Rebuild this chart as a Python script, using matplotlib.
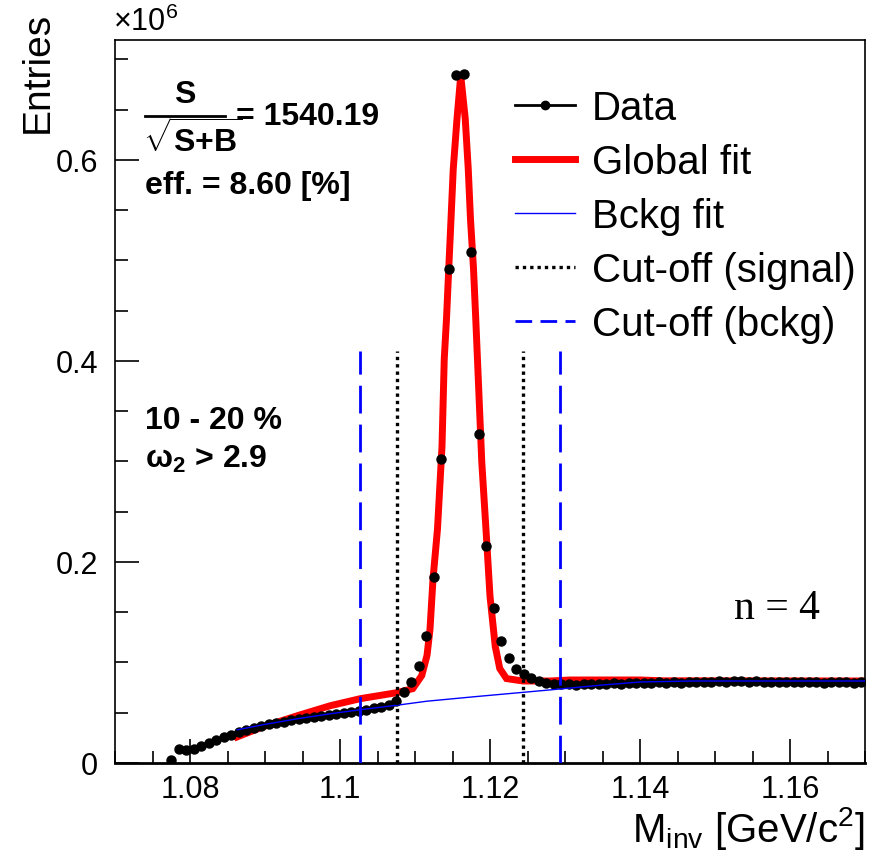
import numpy as np
import matplotlib
matplotlib.use("Agg")
import matplotlib.pyplot as plt
from matplotlib.lines import Line2D
from matplotlib.ticker import MultipleLocator, FuncFormatter

plt.rcParams['font.family'] = ['Liberation Sans', 'DejaVu Sans']
plt.rcParams['mathtext.fontset'] = 'custom'
plt.rcParams['mathtext.rm'] = 'Liberation Sans'
plt.rcParams['mathtext.it'] = 'Liberation Sans:italic'
plt.rcParams['mathtext.bf'] = 'Liberation Sans:bold'

# invariant mass histogram, entries in units of 10^6, 1 MeV bins
first_bin = 1.0775
bin_width = 0.001
entries = [
    0.003, 0.014, 0.013, 0.014, 0.017, 0.020, 0.023, 0.026, 0.028, 0.031,
    0.033, 0.035, 0.037, 0.039, 0.040, 0.041, 0.043, 0.044, 0.045, 0.046,
    0.047, 0.048, 0.049, 0.050, 0.051, 0.052, 0.053, 0.055, 0.056, 0.058,
    0.062, 0.071, 0.081, 0.097, 0.126, 0.185, 0.302, 0.492, 0.685, 0.686,
    0.508, 0.327, 0.216, 0.154, 0.121, 0.104, 0.094, 0.089, 0.085, 0.082,
    0.080, 0.079, 0.0785, 0.0785, 0.078, 0.0785, 0.079, 0.0785, 0.079, 0.0795,
    0.079, 0.0795, 0.080, 0.0795, 0.080, 0.0805, 0.080, 0.0805, 0.080, 0.0805,
    0.081, 0.0805, 0.081, 0.0815, 0.081, 0.082, 0.0815, 0.081, 0.0815, 0.081,
    0.0805, 0.081, 0.0805, 0.081, 0.0805, 0.081, 0.0805, 0.080, 0.0805, 0.081,
    0.0805, 0.080, 0.0805,
]

# global fit (signal + background)
fit_x = [1.0863, 1.0897, 1.0943, 1.0987, 1.1027, 1.1076, 1.1097, 1.1109,
         1.1116, 1.1120, 1.1124, 1.1130, 1.1136, 1.1139, 1.1142, 1.1145,
         1.1148, 1.1151, 1.1156, 1.1161, 1.1167, 1.1171, 1.1174, 1.1178,
         1.1181, 1.1184, 1.1189, 1.1196, 1.1200, 1.1207, 1.1213, 1.1222,
         1.1244, 1.1280, 1.1307, 1.1400, 1.1430, 1.1700]
fit_y = [0.026, 0.036, 0.047, 0.057, 0.064, 0.070, 0.074, 0.087,
         0.107, 0.133, 0.183, 0.233, 0.315, 0.402, 0.442, 0.492,
         0.541, 0.591, 0.641, 0.684, 0.641, 0.591, 0.541, 0.492,
         0.442, 0.389, 0.300, 0.216, 0.166, 0.116, 0.094, 0.084,
         0.0816, 0.0816, 0.0826, 0.0826, 0.0818, 0.0816]

# background fit
bkg_x = [1.0863, 1.0897, 1.0943, 1.0987, 1.1027, 1.1076, 1.1116, 1.1180,
         1.1244, 1.1293, 1.1350, 1.1400, 1.1470, 1.1700]
bkg_y = [0.033, 0.038, 0.044, 0.049, 0.053, 0.0575, 0.0615, 0.066,
         0.0703, 0.0736, 0.0776, 0.0806, 0.0816, 0.0816]

signal_cut = [1.1076, 1.1244]
bckg_cut = [1.1027, 1.1293]
cut_height = 0.41

fig = plt.figure(figsize=(8.7, 8.53), dpi=100)
ax = fig.add_axes([115/870, 1 - 764/853, 750/870, 723/853])

centers = first_bin + bin_width * np.arange(len(entries))

ax.plot(fit_x, fit_y, color='red', lw=5, zorder=2, solid_joinstyle='miter')
ax.plot(centers, entries, 'o', color='black', ms=6.5, zorder=3)
ax.plot(bkg_x, bkg_y, color='blue', lw=1, zorder=4)
for xc in signal_cut:
    ax.plot([xc, xc], [0, cut_height], color='black', lw=2.4,
            linestyle=(0, (1, 1.2)), zorder=5)
for xc in bckg_cut:
    ax.plot([xc, xc], [0, cut_height], color='blue', lw=2,
            linestyle=(0, (10, 4)), zorder=5)

ax.set_xlim(1.07, 1.17)
ax.set_ylim(0, 0.7194)
ax.xaxis.set_major_locator(MultipleLocator(0.02))
ax.xaxis.set_minor_locator(MultipleLocator(0.005))
ax.yaxis.set_major_locator(MultipleLocator(0.2))
ax.yaxis.set_minor_locator(MultipleLocator(0.05))
fmt = FuncFormatter(lambda v, p: '%g' % round(v, 3))
ax.xaxis.set_major_formatter(fmt)
ax.yaxis.set_major_formatter(fmt)
ax.tick_params(which='both', direction='in', top=False, right=False,
               labelsize=22, width=1.2)
ax.tick_params(axis='x', which='major', length=17, pad=8)
ax.tick_params(axis='x', which='minor', length=9)
ax.tick_params(axis='y', which='major', length=17, pad=12)
ax.tick_params(axis='y', which='minor', length=9)
for s in ax.spines.values():
    s.set_linewidth(1.2)
ax.spines['bottom'].set_linewidth(2)

fig.text(113/870, 1 - 38/853, '×10$^{6}$', fontsize=22, ha='left', va='bottom')
fig.text(38/870, 1 - 12/853, 'Entries', fontsize=28, rotation=90,
         ha='center', va='top')
fig.text(865/870, 1 - 852/853, 'M$_{\\mathrm{inv}}$ [GeV/c$^{2}$]', fontsize=29,
         ha='right', va='bottom')

# S / sqrt(S+B) built from pieces, like the ROOT latex box
ax.text(0.093, 0.925, 'S', transform=ax.transAxes, fontsize=23,
        fontweight='bold', ha='center', va='center')
ax.plot([0.04, 0.147], [0.895, 0.895], transform=ax.transAxes,
        color='black', lw=2, clip_on=False)
ax.text(0.037, 0.862, r'$\sqrt{\mathbf{S{+}B}}$', transform=ax.transAxes,
        fontsize=23, ha='left', va='center')
ax.text(0.161, 0.895, '= 1540.19', transform=ax.transAxes, fontsize=23,
        fontweight='bold', ha='left', va='center')
ax.text(0.04, 0.80, 'eff. = 8.60 [%]', transform=ax.transAxes, fontsize=23,
        fontweight='bold', ha='left', va='center')
ax.text(0.04, 0.474, '10 - 20 %', transform=ax.transAxes, fontsize=23,
        fontweight='bold', ha='left', va='center')
ax.text(0.04, 0.421, 'ω$_{\\mathbf{2}}$ > 2.9', transform=ax.transAxes, fontsize=23,
        fontweight='bold', ha='left', va='center')
ax.text(0.825, 0.215, 'n = 4', transform=ax.transAxes, fontsize=30,
        family='Liberation Serif', ha='left', va='center')

handles = [
    Line2D([], [], color='black', lw=2, marker='o', ms=6),
    Line2D([], [], color='red', lw=5),
    Line2D([], [], color='blue', lw=1),
    Line2D([], [], color='black', lw=2.4, linestyle=(0, (1, 1.2))),
    Line2D([], [], color='blue', lw=2, linestyle=(0, (6, 3))),
]
labels = ['Data', 'Global fit', 'Bckg fit', 'Cut-off (signal)', 'Cut-off (bckg)']
ax.legend(handles, labels, loc='upper left', bbox_to_anchor=(515/870, 1 - 90/853),
          bbox_transform=fig.transFigure, frameon=False, fontsize=29,
          handlelength=1.5, handletextpad=0.4, labelspacing=0.4,
          borderpad=0, borderaxespad=0)

fig.savefig('out.png', dpi=100)
